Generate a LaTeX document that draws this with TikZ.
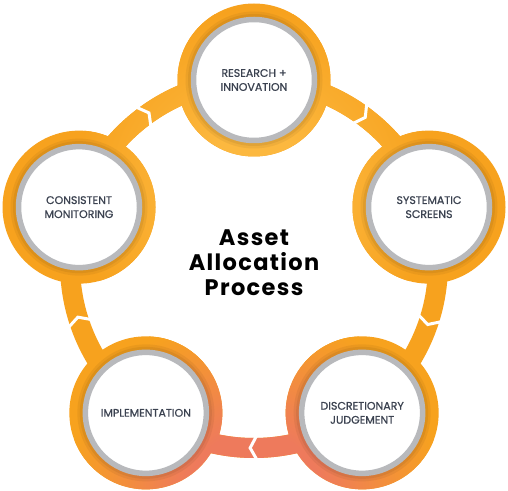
\documentclass[tikz,border=0pt]{standalone}
\usepackage{fontspec}
\setmainfont{Poppins}
\newfontfamily\labelfont{Poppins}[FakeBold=0.8]
\newfontfamily\titlefont{Poppins}[LetterSpace=6]
\usetikzlibrary{calc}
\definecolor{org}{HTML}{F7A21E}
\definecolor{lightorg}{HTML}{FCB83F}
\definecolor{salm}{HTML}{EE7A5C}
\definecolor{ringgray}{HTML}{B8B9BC}
\definecolor{txt}{HTML}{3B4250}
\pgfdeclareradialshading{salmfade}{\pgfpoint{0bp}{0bp}}{color(0bp)=(salm); color(9bp)=(salm); color(25bp)=(org); color(50bp)=(org)}
\pgfdeclareradialshading{glowfade}{\pgfpoint{0bp}{0bp}}{color(0bp)=(lightorg); color(8bp)=(lightorg); color(25bp)=(org); color(50bp)=(org)}
\begin{document}
\begin{tikzpicture}[x=1pt,y=1pt,
  stage/.style={circle, draw=ringgray, line width=5.5pt, fill=white, minimum size=121pt, inner sep=0pt,
    align=center, text=txt, font=\labelfont\fontsize{11}{14}\selectfont},
  title/.style={align=center, text=black, font=\titlefont\bfseries\fontsize{22.5}{25}\selectfont},
  gap/.style={white, line width=3pt, line join=miter}]
\useasboundingbox (0,0) rectangle (508,490);
\coordinate (C) at (254,226);
\def\R{184}
\foreach \n/\a in {1/90,2/18,3/-54,4/-126,5/162}
  \coordinate (c\n) at ($(C)+(\a:\R)$);
\def\orangepath{($(C)+(194,0)$) arc[start angle=0,end angle=360,radius=194]
  ($(C)+(174,0)$) arc[start angle=360,end angle=0,radius=174]
  (c1) circle (76.5) (c2) circle (76.5) (c3) circle (76.5) (c4) circle (76.5) (c5) circle (76.5)}
\begin{scope}
  \clip \orangepath;
  \fill[org] (0,0) rectangle (508,490);
  \shade[shading=glowfade] (254,300) circle (180);
  \shade[shading=salmfade] (254,-10) circle (190);
\end{scope}
% arrow gaps (chevrons pointing clockwise)
\foreach \m in {54,-18,-90,-162,126}
  \draw[gap] ($(C)+(\m+1.2:198)$) -- ($(C)+(\m-1.2:184)$) -- ($(C)+(\m+1.2:170)$);
% soft shadows
\foreach \n in {1,...,5}{
  \fill[black, opacity=0.05] (c\n) circle (68.5);
  \fill[black, opacity=0.06] (c\n) circle (66);
}
\node[stage] (n1) at (c1) {RESEARCH +\\INNOVATION};
\node[stage] (n2) at (c2) {SYSTEMATIC\\SCREENS};
\node[stage] (n3) at (c3) {DISCRETIONARY\\JUDGEMENT};
\node[stage] (n4) at (c4) {IMPLEMENTATION};
\node[stage] (n5) at (c5) {CONSISTENT\\MONITORING};
\node[title] (t) at (254,227) {Asset\\Allocation\\Process};
\end{tikzpicture}
\end{document}
